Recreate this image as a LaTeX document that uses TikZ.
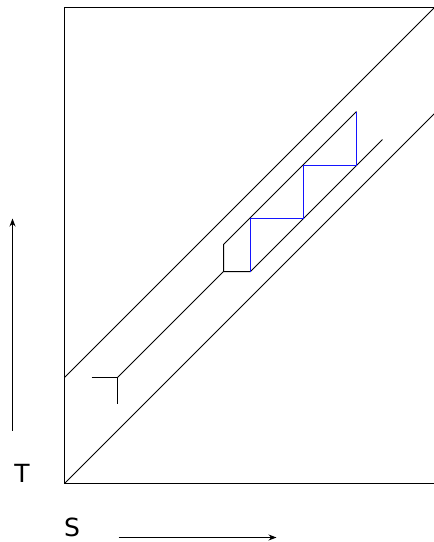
\documentclass[tikz,border=0pt]{standalone}
\usepackage{fontspec}
\setmainfont{DejaVu Sans}
\usetikzlibrary{arrows.meta,positioning}
\definecolor{stair}{RGB}{20,20,255}

\begin{document}
\begin{tikzpicture}[x=1pt,y=-1pt,line width=1pt,
  axis/.style={-{Stealth[length=8pt,width=6pt]}},
  lbl/.style={font=\fontsize{25}{28}\selectfont,inner sep=0pt}]
\useasboundingbox (0,0) rectangle (434,542);
\begin{scope}[shift={(0.5,0.5)}]
% frame (right side lies outside the picture)
\draw (436,7) -- (64,7) -- (64,483) -- (436,483);
% the two outer diagonals
\coordinate (o) at (64,483);
\coordinate (oend) at (434,113);
\coordinate (u) at (64,377);
\coordinate (uend) at (434,7);
\draw (u) -- (uend);
\draw (o) -- (oend);
% middle line with its end stub
\coordinate (y) at (117,377);
\draw (91,377) -- (y) -- (117,403);
\coordinate (k1) at (223,271);
\coordinate (k2) at (250,271);
\coordinate (mend) at (382,139);
\draw (y) -- (k1) -- (k2) -- (mend);
% upper edge of the staircase
\coordinate (k0) at (223,244);
\coordinate (s6) at (356,111);
\draw (k1) -- (k0) -- (s6);
% staircase
\coordinate (s1) at (250,218);
\coordinate (s2) at (303,218);
\coordinate (s3) at (303,165);
\coordinate (s4) at (356,165);
\draw[stair] (k2) -- (s1) -- (s2) -- (s3) -- (s4) -- (s6);
% axes
\coordinate (tlow) at (12,430);
\coordinate (thigh) at (12,218);
\draw[axis] (tlow) -- (thigh);
\coordinate (slow) at (118,537);
\coordinate (shigh) at (276,537);
\draw[axis] (slow) -- (shigh);
\end{scope}
\node[lbl] (tname) at (22,473) {T};
\node[lbl] (sname) at (72,527) {S};
\end{tikzpicture}
\end{document}
